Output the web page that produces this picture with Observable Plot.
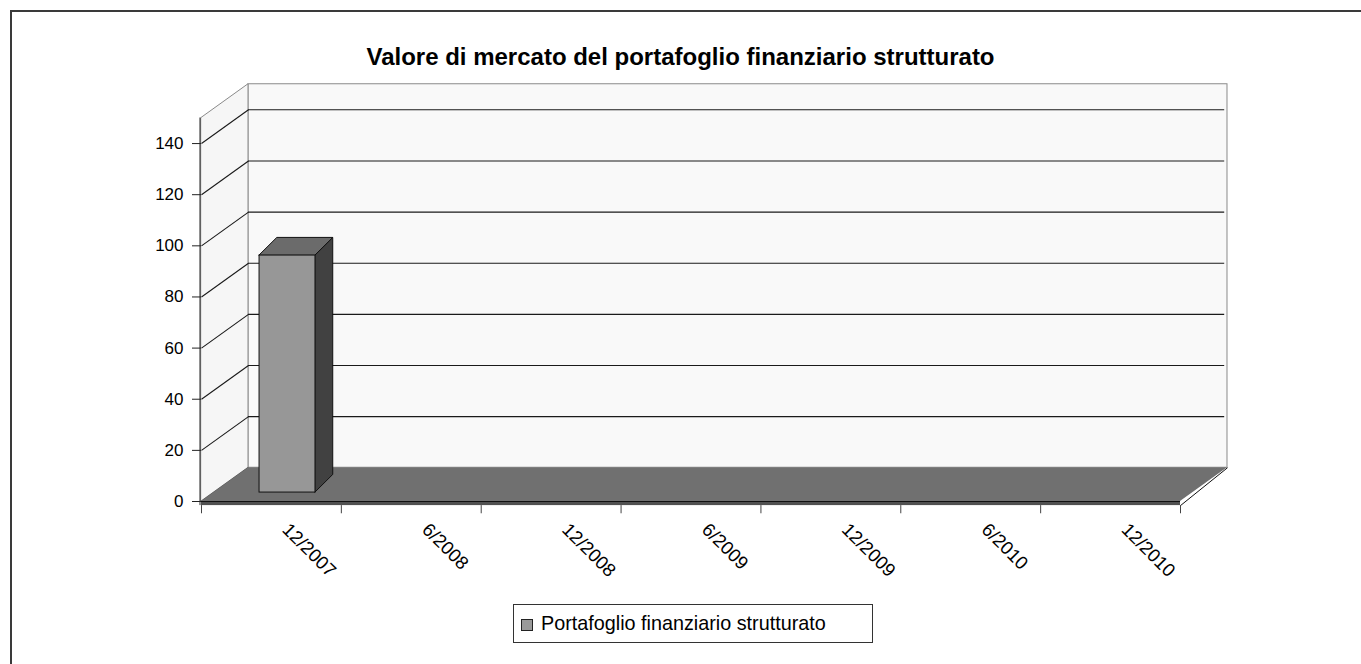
<!DOCTYPE html>
<html>
<head>
<meta charset="utf-8">
<script src="https://cdn.jsdelivr.net/npm/d3@7"></script>
<script src="https://cdn.jsdelivr.net/npm/@observablehq/plot@0.6"></script>
<style>
  html, body { margin: 0; padding: 0; background: #fff; overflow: hidden; }
  #wrap { position: relative; width: 1361px; height: 664px; overflow: hidden; font-family: "Liberation Sans", Arial, sans-serif; }
  #hline { position: absolute; left: 10px; top: 10px; width: 1351px; height: 2px; background: #3a3a3a; }
  #vline { position: absolute; left: 10px; top: 10px; width: 2px; height: 654px; background: #3a3a3a; }
  #title { position: absolute; left: 0; top: 43px; width: 1361px; text-align: center; font-weight: bold; font-size: 24px; line-height: 28px; color: #000; }
  #chart { position: absolute; left: 0; top: 80px; }
  #legend { position: absolute; left: 513px; top: 604px; width: 358px; height: 37px; border: 1px solid #333; background: #fff; font-size: 19.8px; }
  #legend .sw { position: absolute; left: 7px; top: 14px; width: 10px; height: 10px; border: 1px solid #222; background: #9a9a9a; }
  #legend .lb { position: absolute; left: 27px; top: 6px; line-height: 24px; color: #000; }
</style>
</head>
<body>
<div id="wrap">
  <div id="hline"></div>
  <div id="vline"></div>
  <div id="title"></div>
  <div id="chart"></div>
  <div id="legend"><div class="sw"></div><div class="lb"></div></div>
</div>
<script>
// ---- data ----
const chartTitle = "Valore di mercato del portafoglio finanziario strutturato";
const seriesName = "Portafoglio finanziario strutturato";
const categories = ["12/2007", "6/2008", "12/2008", "6/2009", "12/2009", "6/2010", "12/2010"];
const values = [92.7, null, null, null, null, null, null];
const yTicks = [0, 20, 40, 60, 80, 100, 120, 140];
const yMax = 150;

// ---- 3D look constants (data units) ----
const DX = 0.336, DY = 13.2;          // wall depth
const BX0 = 0.415, BX1 = 0.815;       // bar front face within category
const BBASE = 3.5;                    // bar base raised by its depth position
const BDX = 0.127, BDY = 6.9;         // bar depth
const SLAB = 1.6, TICK = 3.2;

document.getElementById("title").textContent = chartTitle;
document.querySelector("#legend .lb").textContent = seriesName;

const n = categories.length;
const bars = values.map((v, i) => ({i, v})).filter(d => d.v != null);

const sideFaces = bars.flatMap(d => [
  {id: d.i, x: d.i + BX1, y1: BBASE, y2: d.v + BBASE},
  {id: d.i, x: d.i + BX1 + BDX, y1: BBASE + BDY, y2: d.v + BBASE + BDY}
]);
const topFaces = bars.flatMap(d => [
  {id: d.i, y: d.v + BBASE, x1: d.i + BX0, x2: d.i + BX1},
  {id: d.i, y: d.v + BBASE + BDY, x1: d.i + BX0 + BDX, x2: d.i + BX1 + BDX}
]);

const chart = Plot.plot({
  width: 1361,
  height: 515,
  marginLeft: 201,
  marginRight: 181,
  marginTop: 37.5,
  marginBottom: 94,
  style: {fontFamily: "'Liberation Sans', Arial, sans-serif", fontSize: "17px", background: "transparent", color: "#000"},
  x: {domain: [0, n], axis: null},
  y: {domain: [0, yMax], axis: null},
  marks: [
    // back wall
    Plot.rect([0], {x1: () => DX, x2: () => n + DX, y1: () => DY, y2: () => yMax + DY, fill: "#f9f9f9", stroke: "#8a8a8a"}),
    // left side wall
    Plot.areaY([{x: 0, y1: 0, y2: yMax}, {x: DX, y1: DY, y2: yMax + DY}], {x: "x", y1: "y1", y2: "y2", fill: "#f6f6f6", stroke: "#8a8a8a"}),
    // gridlines
    Plot.link(yTicks, {x1: () => 0, y1: d => d, x2: () => DX, y2: d => d + DY, stroke: "#1a1a1a", strokeWidth: 1.1}),
    Plot.ruleY(yTicks.filter(d => d > 0), {y: d => d + DY, x1: () => DX, x2: () => n + DX - 0.02, stroke: "#1a1a1a", strokeWidth: 1.1}),
    // floor
    Plot.areaX([{y: 0, x1: 0, x2: n}, {y: DY, x1: DX, x2: n + DX}], {y: "y", x1: "x1", x2: "x2", fill: "#707070"}),
    Plot.rect([0], {x1: () => 0, x2: () => n, y1: () => -SLAB, y2: () => 0, fill: "#505050"}),
    Plot.ruleY([0], {x1: () => 0, x2: () => n, stroke: "#111"}),
    Plot.link([0], {x1: () => n, y1: () => -SLAB, x2: () => n + DX, y2: () => DY, stroke: "#111"}),
    // x ticks
    Plot.ruleX(d3.range(0, n + 1), {x: d => d, y1: () => -SLAB, y2: () => -SLAB - TICK, stroke: "#444"}),
    // bars
    Plot.areaY(sideFaces, {x: "x", y1: "y1", y2: "y2", z: "id", fill: "#414141", stroke: "#111"}),
    Plot.areaX(topFaces, {y: "y", x1: "x1", x2: "x2", z: "id", fill: "#6b6b6b", stroke: "#111"}),
    Plot.rect(bars, {x1: d => d.i + BX0, x2: d => d.i + BX1, y1: () => BBASE, y2: d => d.v + BBASE, fill: "#979797", stroke: "#111"}),
    // y axis
    Plot.ruleX([0], {y1: () => -SLAB, y2: () => yMax, dx: -1.5, stroke: "#222"}),
    Plot.axisY({ticks: yTicks, tickSize: 9, tickPadding: 9, fontSize: 17, label: null, stroke: "#222"}),
    // x labels
    Plot.text(categories, {x: (d, i) => i + 0.5, y: () => 0, text: d => d, rotate: 45, textAnchor: "start", dx: 14, dy: 25, fontSize: 18.5, fill: "#000"})
  ]
});
document.getElementById("chart").appendChild(chart);
</script>
</body>
</html>
